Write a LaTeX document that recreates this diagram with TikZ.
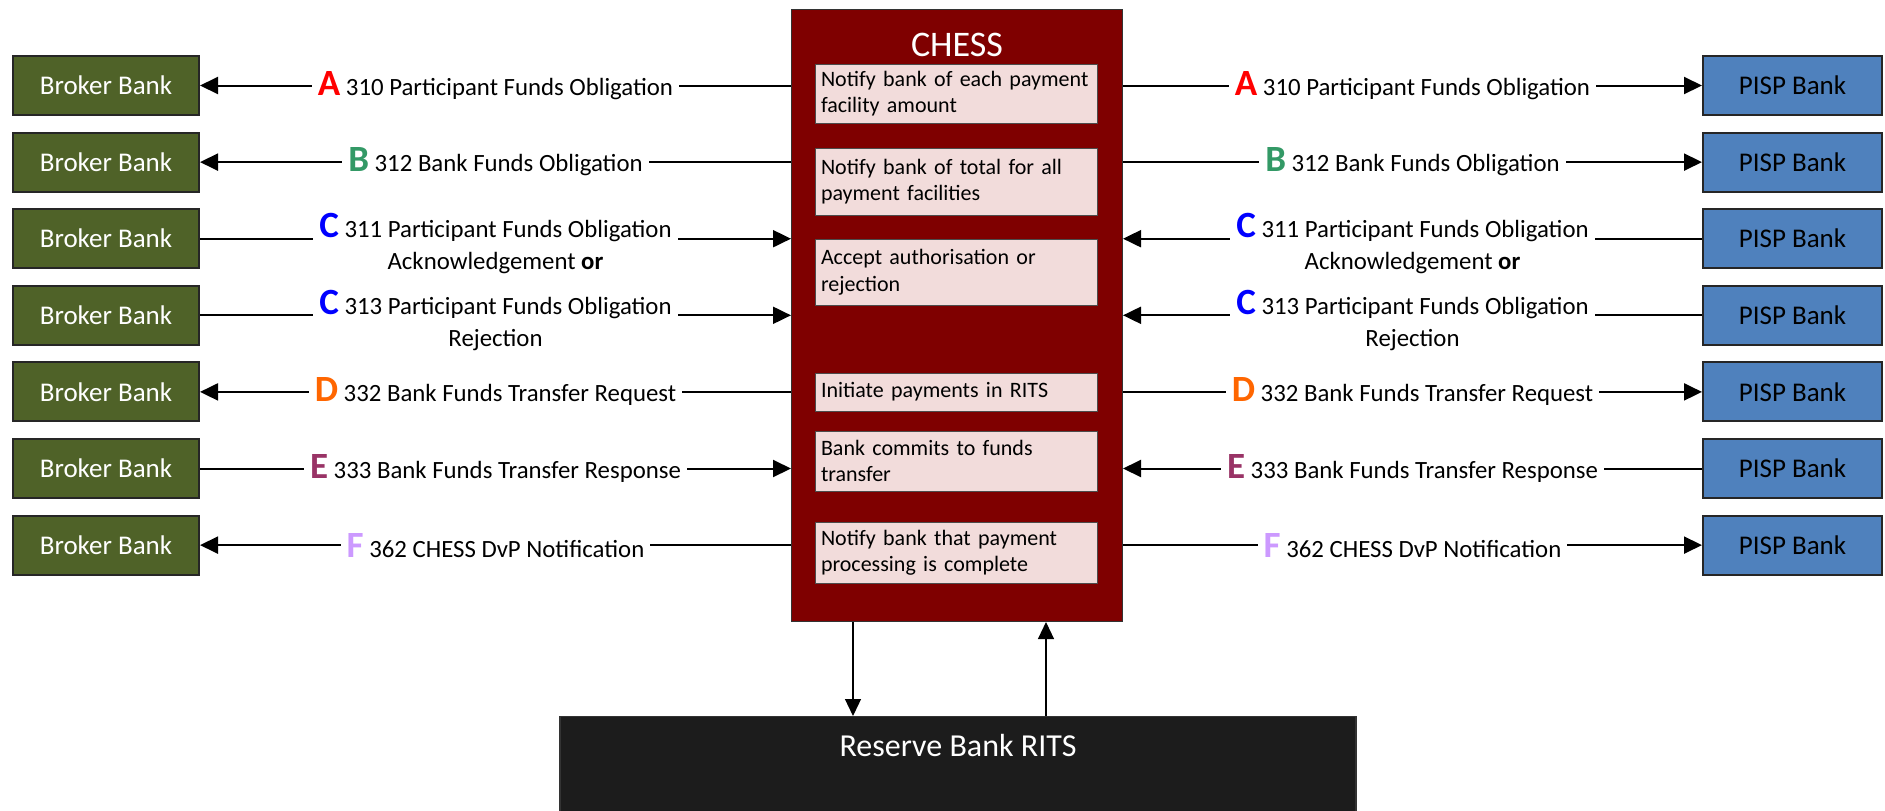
\documentclass[tikz,border=0pt]{standalone}
\usepackage{fontspec}
\setmainfont{Carlito}
\usetikzlibrary{arrows.meta,positioning}
\definecolor{brokergreen}{HTML}{4F6228}
\definecolor{pispblue}{HTML}{4F81BD}
\definecolor{chessred}{HTML}{7F0000}
\definecolor{steppink}{HTML}{F2DCDB}
\definecolor{ritsblack}{HTML}{1C1C1C}
\definecolor{tagA}{HTML}{FF0000}
\definecolor{tagB}{HTML}{339966}
\definecolor{tagC}{HTML}{0000FF}
\definecolor{tagD}{HTML}{FF6600}
\definecolor{tagE}{HTML}{993366}
\definecolor{tagF}{HTML}{CC99FF}
\newcommand{\flowtag}[2]{{\fontsize{18.5}{18}\selectfont\bfseries\color{#1}#2}}
\tikzset{
  broker/.style = {draw=black!85, fill=brokergreen, line width=1pt, rectangle, minimum width=93pt, minimum height=29.5pt, text=white, font=\fontsize{13.5}{16}\selectfont},
  pisp/.style = {broker, fill=pispblue, minimum width=89.5pt, text=black},
  chessbox/.style = {draw=black!80, fill=chessred, line width=0.6pt, rectangle, minimum width=165.4pt, minimum height=305.9pt},
  stepbox/.style = {draw=black!70, fill=steppink, line width=0.5pt, rectangle, minimum width=141pt, text width=135pt, inner xsep=3pt, inner ysep=2pt, align=left, font=\fontsize{11}{13.25}\selectfont},
  msg/.style = {fill=white, inner xsep=3pt, inner ysep=1pt, align=center, font=\fontsize{12.4}{16}\selectfont},
  msgtwo/.style = {msg, yshift=-2.5pt},
  arrow/.style = {line width=1pt, -{Triangle[length=9pt,width=8.5pt]}},
  link/.style = {line width=0.6pt, -{Triangle[length=8.5pt,width=8pt]}}
}
\begin{document}
\begin{tikzpicture}[x=0.5pt, y=-0.5pt, node distance=7.8pt]
  \useasboundingbox (0,0) rectangle (1885,810);
  % CHESS and its steps
  \node[chessbox] (chess) at (957,315.5) {};
  \node[anchor=north, inner sep=0pt, text=white, font=\fontsize{18}{18}\selectfont] (chessname) at ([yshift=-11.8pt]chess.north) {CHESS};
  \node[stepbox, minimum height=29.5pt] (s1) at (956,93.5) {Notify bank of each payment\\facility amount};
  \node[stepbox, minimum height=33.5pt] (s2) at (956,181.5) {Notify bank of total for all\\payment facilities};
  \node[stepbox, minimum height=33pt] (s3) at (956,272) {Accept authorisation or\\rejection};
  \node[stepbox, minimum height=19pt] (s4) at (956,392) {Initiate payments in RITS};
  \node[stepbox, minimum height=30pt] (s5) at (956,461) {Bank commits to funds\\transfer};
  \node[stepbox, minimum height=30.5pt] (s6) at (956,552.5) {Notify bank that payment\\processing is complete};
  % RITS
  \node[draw=black!80, fill=ritsblack, line width=0.6pt, minimum width=398pt, inner ysep=0pt, text height=20pt, text depth=60pt, text=white, font=\fontsize{16}{18}\selectfont, anchor=north] (rits) at (958,716) {Reserve Bank RITS};
  % banks
  \node[broker] (bb1) at (106,85.5) {Broker Bank};
  \node[broker, below=of bb1] (bb2) {Broker Bank};
  \node[broker, below=of bb2] (bb3) {Broker Bank};
  \node[broker, below=of bb3] (bb4) {Broker Bank};
  \node[broker, below=of bb4] (bb5) {Broker Bank};
  \node[broker, below=of bb5] (bb6) {Broker Bank};
  \node[broker, below=of bb6] (bb7) {Broker Bank};
  \node[pisp] (pb1) at (1792.5,85.5) {PISP Bank};
  \node[pisp, below=of pb1] (pb2) {PISP Bank};
  \node[pisp, below=of pb2] (pb3) {PISP Bank};
  \node[pisp, below=of pb3] (pb4) {PISP Bank};
  \node[pisp, below=of pb4] (pb5) {PISP Bank};
  \node[pisp, below=of pb5] (pb6) {PISP Bank};
  \node[pisp, below=of pb6] (pb7) {PISP Bank};
  % broker side
  \draw[arrow] (bb1 -| chess.west) -- node[msg] (ml1) {\flowtag{tagA}{A} 310 Participant Funds Obligation} (bb1);
  \draw[arrow] (bb2 -| chess.west) -- node[msg] (ml2) {\flowtag{tagB}{B} 312 Bank Funds Obligation} (bb2);
  \draw[arrow] (bb3) -- node[msgtwo] (ml3) {\flowtag{tagC}{C} 311 Participant Funds Obligation\\Acknowledgement \textbf{or}} (bb3 -| chess.west);
  \draw[arrow] (bb4) -- node[msgtwo] (ml4) {\flowtag{tagC}{C} 313 Participant Funds Obligation\\Rejection} (bb4 -| chess.west);
  \draw[arrow] (bb5 -| chess.west) -- node[msg] (ml5) {\flowtag{tagD}{D} 332 Bank Funds Transfer Request} (bb5);
  \draw[arrow] (bb6) -- node[msg] (ml6) {\flowtag{tagE}{E} 333 Bank Funds Transfer Response} (bb6 -| chess.west);
  \draw[arrow] (bb7 -| chess.west) -- node[msg] (ml7) {\flowtag{tagF}{F} 362 CHESS DvP Notification} (bb7);
  % pisp side
  \draw[arrow] (pb1 -| chess.east) -- node[msg] (mr1) {\flowtag{tagA}{A} 310 Participant Funds Obligation} (pb1);
  \draw[arrow] (pb2 -| chess.east) -- node[msg] (mr2) {\flowtag{tagB}{B} 312 Bank Funds Obligation} (pb2);
  \draw[arrow] (pb3) -- node[msgtwo] (mr3) {\flowtag{tagC}{C} 311 Participant Funds Obligation\\Acknowledgement \textbf{or}} (pb3 -| chess.east);
  \draw[arrow] (pb4) -- node[msgtwo] (mr4) {\flowtag{tagC}{C} 313 Participant Funds Obligation\\Rejection} (pb4 -| chess.east);
  \draw[arrow] (pb5 -| chess.east) -- node[msg] (mr5) {\flowtag{tagD}{D} 332 Bank Funds Transfer Request} (pb5);
  \draw[arrow] (pb6) -- node[msg] (mr6) {\flowtag{tagE}{E} 333 Bank Funds Transfer Response} (pb6 -| chess.east);
  \draw[arrow] (pb7 -| chess.east) -- node[msg] (mr7) {\flowtag{tagF}{F} 362 CHESS DvP Notification} (pb7);
  % to and from RITS
  \draw[link] ([xshift=-52pt]chess.south) -- ([xshift=-52pt]chess.south |- rits.north);
  \draw[link] ([xshift=44.5pt]chess.south |- rits.north) -- ([xshift=44.5pt]chess.south);
\end{tikzpicture}
\end{document}
